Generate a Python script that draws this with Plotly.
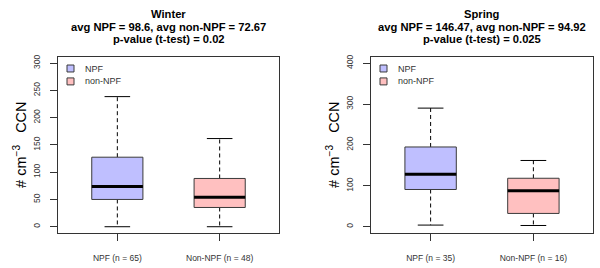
import plotly.graph_objects as go

# ---- data ----
groups = ["NPF", "Non-NPF"]
season_names = ["Winter", "Spring"]
n_counts = [[65, 48], [35, 16]]
avg_npf = [98.6, 146.47]
avg_non = [72.67, 94.92]
p_values = ["0.02", "0.025"]
legend_labels = ["NPF", "non-NPF"]

# five-number summaries per season: [NPF, Non-NPF]
lower = [[0, 0], [4, 3]]
q1 = [[50, 35.3], [91, 32.5]]
median = [[73.8, 54.2], [128, 88]]
q3 = [[127.5, 88.5], [195, 118.5]]
upper = [[238.6, 161.7], [290, 162]]

ylims = [[0, 300], [0, 400]]
ydticks = [50, 100]

fills = ["#BFBFFF", "#FFC0C0"]
edge = "#3a3a3a"

W, H = 600, 268
fig = go.Figure()

xdoms = [[58 / W, 279 / W], [371 / W, 593 / W]]
ydom = [1 - 233 / H, 1 - 55 / H]
half = 0.25
cap = 0.125

for s in range(2):
    xa = "x" if s == 0 else "x2"
    ya = "y" if s == 0 else "y2"
    for g in range(2):
        pos = g + 1
        fig.add_trace(go.Scatter(
            x=[pos, pos, None, pos, pos],
            y=[q3[s][g], upper[s][g], None, q1[s][g], lower[s][g]],
            mode="lines", line=dict(color="black", width=1, dash="4px,3px"),
            xaxis=xa, yaxis=ya, showlegend=False, hoverinfo="skip"))
        fig.add_trace(go.Scatter(
            x=[pos - cap, pos + cap, None, pos - cap, pos + cap],
            y=[upper[s][g], upper[s][g], None, lower[s][g], lower[s][g]],
            mode="lines", line=dict(color="black", width=1),
            xaxis=xa, yaxis=ya, showlegend=False, hoverinfo="skip"))
        fig.add_trace(go.Scatter(
            x=[pos - half, pos + half, pos + half, pos - half, pos - half],
            y=[q1[s][g], q1[s][g], q3[s][g], q3[s][g], q1[s][g]],
            mode="lines", fill="toself", fillcolor=fills[g],
            line=dict(color=edge, width=1),
            xaxis=xa, yaxis=ya, showlegend=False, hoverinfo="skip"))
        fig.add_trace(go.Scatter(
            x=[pos - half, pos + half], y=[median[s][g], median[s][g]],
            mode="lines", line=dict(color="black", width=3),
            xaxis=xa, yaxis=ya, showlegend=False, hoverinfo="skip"))

font = "Liberation Sans, Arial, sans-serif"
layout = dict(
    width=W, height=H, margin=dict(l=0, r=0, t=0, b=0),
    paper_bgcolor="white", plot_bgcolor="white", showlegend=False,
    font=dict(family=font, color="#222"),
)
for s in range(2):
    sfx = "" if s == 0 else "2"
    lo, hi = ylims[s]
    ext = 0.04 * (hi - lo)
    layout["xaxis" + sfx] = dict(
        domain=xdoms[s], range=[0.42, 2.58], tickvals=[1, 2],
        ticktext=[f"{groups[g]} (n = {n_counts[s][g]})" for g in range(2)],
        ticks="outside", ticklen=7, tickcolor="#333", showline=True,
        mirror=True, linecolor="#333", linewidth=1, showgrid=False,
        zeroline=False, tickfont=dict(size=8.5, color="#333"),
        ticklabelstandoff=10, anchor="y" + sfx, fixedrange=True)
    layout["yaxis" + sfx] = dict(
        domain=ydom, range=[lo - ext, hi + ext],
        tickvals=list(range(lo, hi + 1, ydticks[s])),
        ticks="outside", ticklen=7, tickcolor="#333", showline=True,
        mirror=True, linecolor="#333", linewidth=1, showgrid=False,
        zeroline=False, tickangle=-90, tickfont=dict(size=8.5, color="#333"),
        ticklabelstandoff=7, anchor="x" + sfx, fixedrange=True)
fig.update_layout(**layout)

shapes = []
for s in range(2):
    cx = (xdoms[s][0] + xdoms[s][1]) / 2
    lines = [season_names[s],
             f"avg NPF = {avg_npf[s]}, avg non-NPF = {avg_non[s]}",
             f"p-value (t-test) = {p_values[s]}"]
    for i, t in enumerate(lines):
        fig.add_annotation(
            x=cx, y=1 - (12.3 + 12.6 * i) / H, xref="paper", yref="paper",
            xanchor="center", yanchor="middle", showarrow=False,
            text=f"<b>{t}</b>",
            font=dict(size=11.2, family=font, color="black"))
    fig.add_annotation(
        x=(20 if s == 0 else 333) / W, y=1 - 144 / H,
        xref="paper", yref="paper", xanchor="center", yanchor="middle",
        showarrow=False, textangle=-90,
        text="# cm<sup>\u22123</sup>   CCN",
        font=dict(size=14.5, family=font, color="black"))
    lx = xdoms[s][0] + 9 / W
    for g in range(2):
        cy = 67 + 13 * g
        shapes.append(dict(
            type="rect", xref="paper", yref="paper",
            x0=lx, x1=lx + 7 / W, y0=1 - (cy + 3.5) / H, y1=1 - (cy - 3.5) / H,
            fillcolor=fills[g], line=dict(color=edge, width=1)))
        fig.add_annotation(
            x=lx + 16 / W, y=1 - cy / H, xref="paper", yref="paper",
            xanchor="left", yanchor="middle", showarrow=False,
            text=legend_labels[g], font=dict(size=9, family=font, color="#333"))
fig.update_layout(shapes=shapes)

fig.write_html("out.html", config={"displayModeBar": False},
               post_script="document.body.style.margin='0';")
